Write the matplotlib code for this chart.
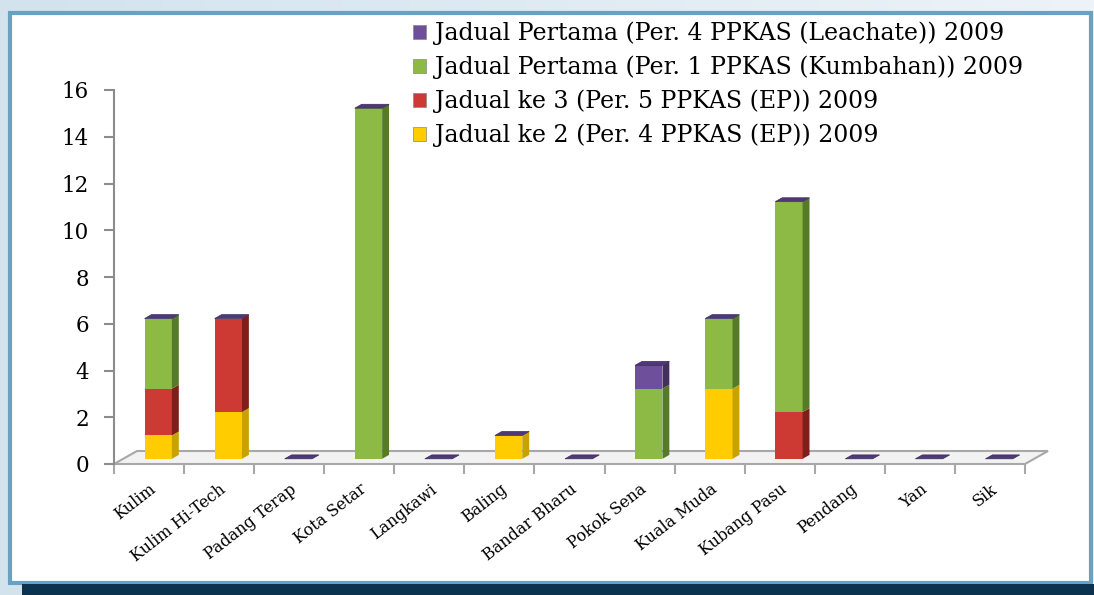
import numpy as np
import matplotlib
matplotlib.use("Agg")
import matplotlib.pyplot as plt
from matplotlib.patches import Polygon, Rectangle, Patch

# data
districts = ["Kulim", "Kulim Hi-Tech", "Padang Terap", "Kota Setar", "Langkawi",
             "Baling", "Bandar Bharu", "Pokok Sena", "Kuala Muda", "Kubang Pasu",
             "Pendang", "Yan", "Sik"]
jadual2 = [1, 2, 0, 0, 0, 1, 0, 0, 3, 0, 0, 0, 0]
jadual3 = [2, 4, 0, 0, 0, 0, 0, 0, 0, 2, 0, 0, 0]
kumbahan = [3, 0, 0, 15, 0, 0, 0, 3, 3, 9, 0, 0, 0]
leachate = [0, 0, 0, 0, 0, 0, 0, 1, 0, 0, 0, 0, 0]

series_names = ["Jadual ke 2 (Per. 4 PPKAS (EP)) 2009",
                "Jadual ke 3 (Per. 5 PPKAS (EP)) 2009",
                "Jadual Pertama (Per. 1 PPKAS (Kumbahan)) 2009",
                "Jadual Pertama (Per. 4 PPKAS (Leachate)) 2009"]
series_vals = [jadual2, jadual3, kumbahan, leachate]
front_cols = ["#ffcc00", "#cc3a33", "#8dba45", "#6e4f9b"]
side_cols = ["#c9a200", "#7d1f1b", "#577a28", "#43305f"]

W, H = 1094, 595
fig = plt.figure(figsize=(W / 100, H / 100), dpi=100)

# background frame
bg = fig.add_axes([0, 0, 1, 1], zorder=-5)
bg.set_xlim(0, W)
bg.set_ylim(H, 0)
bg.axis("off")
grad = np.linspace(0, 1, 256).reshape(1, -1)
bg.imshow(grad, extent=[0, W, H, 0], aspect="auto",
          cmap=matplotlib.colors.LinearSegmentedColormap.from_list("g", ["#d2e3ee", "#edf3f8"]))
bg.add_patch(Rectangle((10, 13), 1081, 570, facecolor="white", edgecolor="#6aa0c2", lw=3))
bg.add_patch(Rectangle((22, 584), W - 22, 12, facecolor="#0b3350", edgecolor="none"))

# main axes: x in category units, y in values
x0, x1, ytop, ybot = 114, 1025, 90, 464
ax = fig.add_axes([x0 / W, (H - ybot) / H, (x1 - x0) / W, (ybot - ytop) / H])
ax.set_xlim(0, len(districts))
ax.set_ylim(0, 16)
ax.patch.set_alpha(0)
for s in ["top", "right", "bottom"]:
    ax.spines[s].set_visible(False)
ax.spines["left"].set_color("#8c8c8c")
ax.spines["left"].set_linewidth(1.5)

px_x = (x1 - x0) / len(districts)
px_y = (ybot - ytop) / 16
dx, dy = 23 / px_x, 13 / px_y   # depth of the floor in data units

# floor
n = len(districts)
ax.add_patch(Polygon([(0, 0), (n, 0), (n + dx, dy), (dx, dy)], closed=True,
                     facecolor="#f2f2f2", edgecolor="#a8a8a8", lw=1.5, zorder=1,
                     clip_on=False))

f0, f1 = 0.4, 0.7
w = 0.39
xs = np.arange(n) + 0.5 + f0 * dx
ddx, ddy = (f1 - f0) * dx, (f1 - f0) * dy
bottom = np.zeros(n) + f0 * dy

for vals, fc, sc in zip(series_vals, front_cols, side_cols):
    vals = np.array(vals, dtype=float)
    ax.bar(xs, vals, width=w, bottom=bottom, color=fc, edgecolor="none", zorder=3)
    for xc, b, v in zip(xs, bottom, vals):
        if v <= 0:
            continue
        xr = xc + w / 2
        ax.add_patch(Polygon([(xr, b), (xr + ddx, b + ddy), (xr + ddx, b + v + ddy), (xr, b + v)],
                             closed=True, facecolor=sc, edgecolor="none", zorder=3))
    bottom = bottom + vals

# top caps
for xc, t in zip(xs, bottom):
    xl, xr = xc - w / 2, xc + w / 2
    ax.add_patch(Polygon([(xl, t), (xr, t), (xr + ddx, t + ddy), (xl + ddx, t + ddy)],
                         closed=True, facecolor="#4f3878", edgecolor="#3b2a5a", lw=0.5,
                         zorder=4, clip_on=False))

# ticks
ax.set_yticks(range(0, 17, 2))
ax.tick_params(axis="y", length=7, width=1.5, color="#8c8c8c", pad=11,
               labelsize=15.5, labelfontfamily="DejaVu Serif")
ax.set_xticks(range(n + 1))
ax.set_xticklabels([])
ax.tick_params(axis="x", which="major", length=7, width=1.5, color="#a8a8a8")
ax.set_xticks(np.arange(n) + 0.5, minor=True)
ax.set_xticklabels(districts, minor=True, rotation=38, ha="right",
                   rotation_mode="anchor", fontsize=11.5, family="DejaVu Serif")
ax.tick_params(axis="x", which="minor", length=0, pad=12)

# legend
handles = [Patch(facecolor=c, edgecolor="#888888", lw=0.5) for c in front_cols]
leg = fig.legend(handles[::-1], series_names[::-1], loc="upper left",
                 bbox_to_anchor=(404 / W, 1 - 12 / H), frameon=False,
                 prop={"family": "DejaVu Serif", "size": 17},
                 handlelength=0.55, handleheight=0.55, handletextpad=0.35,
                 labelspacing=0.45, borderaxespad=0)

fig.savefig("out.png", dpi=100)
